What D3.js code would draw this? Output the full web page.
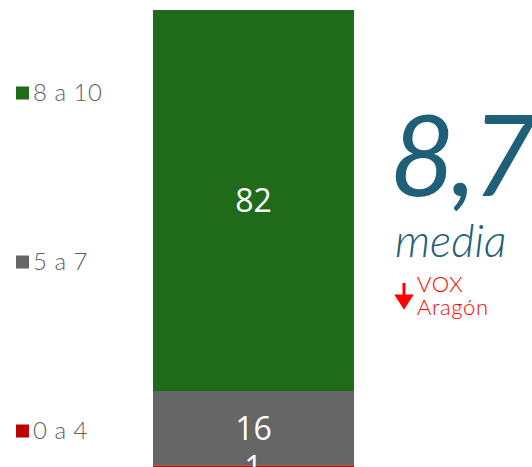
<!DOCTYPE html>
<html>
<head>
<meta charset="utf-8">
<script src="https://cdn.jsdelivr.net/npm/d3@7"></script>
<style>
  body { margin: 0; background: #fff; }
  svg { display: block; }
</style>
</head>
<body>
<div id="chart"></div>
<script>
// data
const bars = ["Total"];
const categories = ["8 a 10", "5 a 7", "0 a 4"];
const values = [82, 16, 1];
const mediaValue = "8,7";
const mediaLabel = "media";
const noteLines = ["VOX", "Aragón"];

const colors = ["#1f6b19", "#666666", "#c00000"];

const width = 532, height = 467;

const svg = d3.select("#chart").append("svg")
    .attr("width", width)
    .attr("height", height);

// stacking: bottom is the last category
const row = {};
categories.forEach((c, i) => row[c] = values[i]);
const stacked = d3.stack().keys(categories.slice().reverse())([row]);

const total = d3.sum(values);
const yScale = d3.scaleLinear().domain([0, total]).range([470, 10]);
const xScale = d3.scaleBand().domain(bars).range([153, 354]).padding(0);

const colorScale = d3.scaleOrdinal().domain(categories).range(colors);

const layers = svg.append("g").selectAll("g")
    .data(stacked)
    .join("g")
    .attr("fill", d => colorScale(d.key));

layers.selectAll("rect")
    .data(d => d)
    .join("rect")
    .attr("x", xScale(bars[0]))
    .attr("width", xScale.bandwidth())
    .attr("y", d => yScale(d[1]))
    .attr("height", d => yScale(d[0]) - yScale(d[1]));

// value labels
svg.append("g").selectAll("text")
    .data(stacked)
    .join("text")
    .attr("x", xScale(bars[0]) + xScale.bandwidth() / 2)
    .attr("y", d => (yScale(d[0][0]) + yScale(d[0][1])) / 2)
    .attr("dy", "0.36em")
    .attr("text-anchor", "middle")
    .attr("fill", "#fff")
    .style("font-family", "'Open Sans', sans-serif")
    .style("font-size", "32px")
    .text(d => d[0][1] - d[0][0]);

// legend
const legendY = d3.scalePoint().domain(categories).range([93, 431]);
const legend = svg.append("g").selectAll("g")
    .data(categories)
    .join("g")
    .attr("transform", d => `translate(16,${legendY(d)})`);

legend.append("rect")
    .attr("y", -6.5)
    .attr("width", 13)
    .attr("height", 13)
    .attr("fill", d => colorScale(d));

legend.append("text")
    .attr("x", 17)
    .attr("y", 8)
    .attr("fill", "#5f5f5f")
    .style("font-family", "Lato, sans-serif")
    .style("font-weight", 300)
    .style("font-size", "24px")
    .style("letter-spacing", "0.5px")
    .text(d => d);

// media block
svg.append("text")
    .attr("x", 390)
    .attr("y", 196)
    .attr("fill", "#1f5f78")
    .style("font-family", "Lato, sans-serif")
    .style("font-weight", 400)
    .style("font-style", "italic")
    .style("font-size", "112px")
    .style("letter-spacing", "-4px")
    .text(mediaValue);

svg.append("text")
    .attr("x", 395)
    .attr("y", 257)
    .attr("fill", "#1f5f78")
    .style("font-family", "Lato, sans-serif")
    .style("font-weight", 300)
    .style("font-style", "italic")
    .style("font-size", "45px")
    .text(mediaLabel);

// red down arrow
svg.append("path")
    .attr("d", "M404,283 V297 M397,296 L404,307 L411,296 Z")
    .attr("stroke", "#ff0000")
    .attr("stroke-width", 3)
    .attr("fill", "#ff0000");

svg.append("g").selectAll("text")
    .data(noteLines)
    .join("text")
    .attr("x", 417)
    .attr("y", (d, i) => 292 + i * 23)
    .attr("fill", "#ff0000")
    .style("font-family", "Lato, sans-serif")
    .style("font-weight", 300)
    .style("font-size", "22px")
    .style("letter-spacing", "0.6px")
    .text(d => d);
</script>
</body>
</html>
